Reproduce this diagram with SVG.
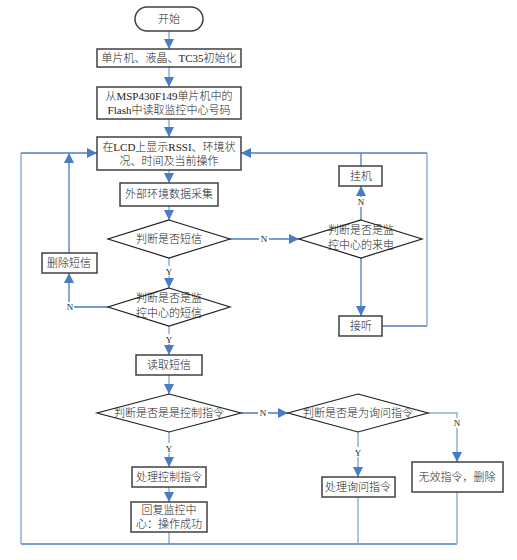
<svg xmlns="http://www.w3.org/2000/svg" width="517" height="560" viewBox="0 0 517 560">
<style>
.box{fill:#fff;stroke:#404040;stroke-width:1.5}
.dia{fill:#fff;stroke:#202020;stroke-width:1.2}
.t{font-family:"Liberation Serif","Noto Sans CJK SC",serif;font-size:11px;font-weight:300;fill:#222;text-anchor:middle}
.lbl{font-family:"Liberation Serif","Noto Sans CJK SC",serif;font-size:9px;fill:#222;text-anchor:middle}
.c{fill:none;stroke:#4a7cc4;stroke-width:1.3}
.cl{fill:none;stroke:#8fb0dd;stroke-width:1.5}
</style>
<defs>
<marker id="ah" markerUnits="userSpaceOnUse" markerWidth="10" markerHeight="10" viewBox="0 0 10 10" refX="10" refY="5" orient="auto">
<path d="M0,0 L10,5 L0,10 z" fill="#4a7cc4"/>
</marker>
</defs>
<rect width="517" height="560" fill="#fff"/>
<g id="connectors">
<path class="cl" d="M169,31 V49" marker-end="url(#ah)"/>
<path class="cl" d="M169,67 V87" marker-end="url(#ah)"/>
<path class="cl" d="M169,119 V137" marker-end="url(#ah)"/>
<path class="cl" d="M169,170 V183" marker-end="url(#ah)"/>
<path class="cl" d="M169,206 V220" marker-end="url(#ah)"/>
<path class="cl" d="M169,258 V288" marker-end="url(#ah)"/>
<path class="cl" d="M169,326 V355" marker-end="url(#ah)"/>
<path class="cl" d="M169,375 V394" marker-end="url(#ah)"/>
<path class="cl" d="M169,432 V467" marker-end="url(#ah)"/>
<path class="cl" d="M169,487 V502" marker-end="url(#ah)"/>
<path class="cl" d="M169,532 V544"/>
<path class="c" d="M457,544 H21"/>
<path class="cl" d="M21,544 V153"/>
<path class="c" d="M21,153 H97" marker-end="url(#ah)"/>
<path class="c" d="M108,307 H69 V273" marker-end="url(#ah)"/>
<path class="c" d="M69,253 V153" marker-end="url(#ah)"/>
<path class="c" d="M230,239 H299" marker-end="url(#ah)"/>
<path class="c" d="M361,220 V186" marker-end="url(#ah)"/>
<path class="c" d="M361,166 V153"/>
<path class="c" d="M361,258 V316" marker-end="url(#ah)"/>
<path class="c" d="M382,326 H427"/>
<path class="cl" d="M427,326 V153"/>
<path class="c" d="M427,153 H241" marker-end="url(#ah)"/>
<path class="c" d="M241,413 H288" marker-end="url(#ah)"/>
<path class="cl" d="M428,413 H457 V462" marker-end="url(#ah)"/>
<path class="cl" d="M358,432 V477" marker-end="url(#ah)"/>
<path class="cl" d="M358,497 V544"/>
<path class="cl" d="M457,492 V544"/>
</g>
<g id="labels">
<rect x="165" y="266" width="8" height="10" fill="#fff"/><text class="lbl" x="169" y="275">Y</text>
<rect x="165" y="334" width="8" height="10" fill="#fff"/><text class="lbl" x="169" y="343">Y</text>
<rect x="165" y="443" width="8" height="10" fill="#fff"/><text class="lbl" x="169" y="452">Y</text>
<rect x="354" y="447" width="8" height="10" fill="#fff"/><text class="lbl" x="358" y="456">Y</text>
<rect x="64" y="302" width="10" height="10" fill="#fff"/><text class="lbl" x="70" y="310">N</text>
<rect x="259" y="234" width="10" height="10" fill="#fff"/><text class="lbl" x="264" y="242">N</text>
<rect x="356" y="197" width="10" height="10" fill="#fff"/><text class="lbl" x="361" y="205">N</text>
<rect x="258" y="408" width="10" height="10" fill="#fff"/><text class="lbl" x="263" y="416">N</text>
<rect x="452" y="418" width="10" height="10" fill="#fff"/><text class="lbl" x="457" y="426">N</text>
</g>
<g id="start"><rect class="box" x="135" y="7" width="68" height="24" rx="12"/><text class="t" x="169" y="23">开始</text></g>
<g id="init"><rect class="box" x="97" y="49" width="144" height="18"/><text class="t" x="169" y="62">单片机、液晶、TC35初始化</text></g>
<g id="readflash"><rect class="box" x="97" y="87" width="144" height="32"/><text class="t" x="169" y="100">从MSP430F149单片机中的</text><text class="t" x="169" y="114">Flash中读取监控中心号码</text></g>
<g id="lcd"><rect class="box" x="97" y="137" width="144" height="33"/><text class="t" x="169" y="151">在LCD上显示RSSI、环境状</text><text class="t" x="169" y="165">况、时间及当前操作</text></g>
<g id="collect"><rect class="box" x="120" y="183" width="98" height="23"/><text class="t" x="169" y="198">外部环境数据采集</text></g>
<g id="isSms"><polygon class="dia" points="169,220 230,239 169,258 108,239"/><text class="t" x="169" y="243">判断是否短信</text></g>
<g id="isCenterSms"><polygon class="dia" points="169,288 230,307 169,326 108,307"/><text class="t" x="169" y="302">判断是否是监</text><text class="t" x="169" y="317">控中心的短信</text></g>
<g id="deleteSms"><rect class="box" x="42" y="253" width="55" height="20"/><text class="t" x="69" y="267">删除短信</text></g>
<g id="readSms"><rect class="box" x="136" y="355" width="66" height="20"/><text class="t" x="169" y="369">读取短信</text></g>
<g id="isCall"><polygon class="dia" points="361,220 422,239 361,258 299,239"/><text class="t" x="361" y="234">判断是否是监</text><text class="t" x="361" y="249">控中心的来电</text></g>
<g id="hangup"><rect class="box" x="339" y="166" width="43" height="20"/><text class="t" x="361" y="180">挂机</text></g>
<g id="answer"><rect class="box" x="339" y="316" width="43" height="20"/><text class="t" x="361" y="330">接听</text></g>
<g id="isControl"><polygon class="dia" points="169,394 241,413 169,432 97,413"/><text class="t" x="169" y="417">判断是否是是控制指令</text></g>
<g id="isQuery"><polygon class="dia" points="358,394 428,413 358,432 288,413"/><text class="t" x="358" y="417">判断是否是为询问指令</text></g>
<g id="doControl"><rect class="box" x="132" y="467" width="74" height="20"/><text class="t" x="169" y="481">处理控制指令</text></g>
<g id="reply"><rect class="box" x="131" y="502" width="76" height="30"/><text class="t" x="169" y="514">回复监控中</text><text class="t" x="169" y="528">心：操作成功</text></g>
<g id="doQuery"><rect class="box" x="322" y="477" width="73" height="20"/><text class="t" x="358" y="491">处理询问指令</text></g>
<g id="invalid"><rect class="box" x="412" y="462" width="91" height="30"/><text class="t" x="457" y="481">无效指令，删除</text></g>
</svg>
